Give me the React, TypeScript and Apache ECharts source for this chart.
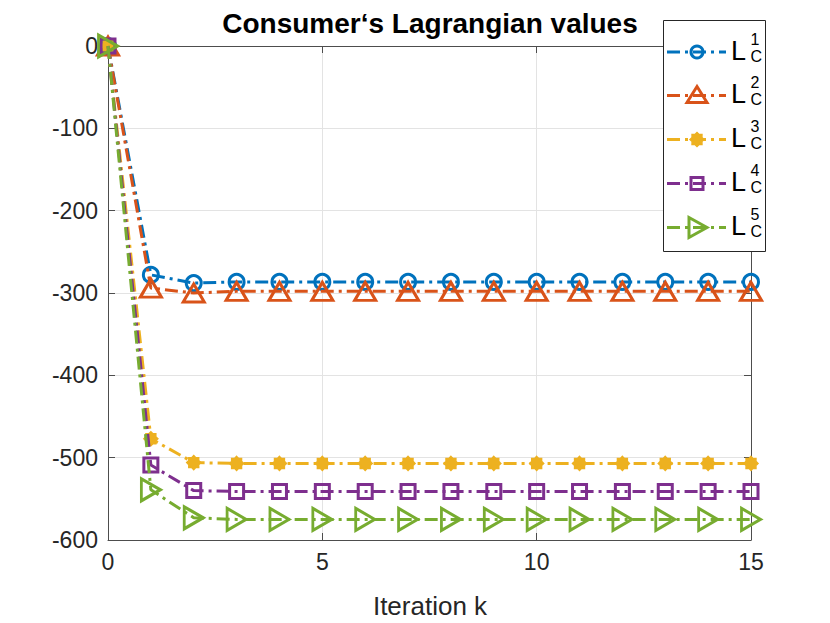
import React, { useEffect, useRef } from "react";
import * as echarts from "echarts";

const iterations = [0, 1, 2, 3, 4, 5, 6, 7, 8, 9, 10, 11, 12, 13, 14, 15];
const seriesNames = ["L1", "L2", "L3", "L4", "L5"];
const supLabels = ["1", "2", "3", "4", "5"];
const L1 = [0, -278, -288, -286.5, -286.5, -286.5, -286.5, -286.5, -286.5, -286.5, -286.5, -286.5, -286.5, -286.5, -286.5, -286.5];
const L2 = [0, -294, -300, -298, -298, -298, -298, -298, -298, -298, -298, -298, -298, -298, -298, -298];
const L3 = [0, -477, -506, -507, -507, -507, -507, -507, -507, -507, -507, -507, -507, -507, -507, -507];
const L4 = [0, -509, -540, -541, -541, -541, -541, -541, -541, -541, -541, -541, -541, -541, -541, -541];
const L5 = [0, -539, -573, -575, -575, -575, -575, -575, -575, -575, -575, -575, -575, -575, -575, -575];
const xTicks = [0, 5, 10, 15];
const yTicks = [-600, -500, -400, -300, -200, -100, 0];

const colors = ["#0072BD", "#D95319", "#EDB120", "#7E2F8E", "#77AC30"];
const FONT = '"Liberation Sans", Arial, Helvetica, sans-serif';
const DASH = [13, 5, 3, 5];

function starPoints(cx: number, cy: number, ro: number, ri: number, n: number) {
  const pts: number[][] = [];
  for (let i = 0; i < n * 2; i++) {
    const r = i % 2 === 0 ? ro : ri;
    const a = (Math.PI * i) / n - Math.PI / 2;
    pts.push([cx + r * Math.cos(a), cy + r * Math.sin(a)]);
  }
  return pts;
}

const starPath =
  "path://" +
  starPoints(10, 10, 10, 7.6, 8)
    .map((p, i) => (i === 0 ? "M" : "L") + p[0].toFixed(2) + " " + p[1].toFixed(2))
    .join(" ") +
  " Z";

export default function App() {
  const ref = useRef<HTMLDivElement>(null);
  useEffect(() => {
    document.body.style.margin = "0";
    if (!ref.current) return;
    const chart = echarts.init(ref.current, undefined, { renderer: "svg" });
    const data = [L1, L2, L3, L4, L5];
    const symbols: any[] = [
      { symbol: "circle", symbolSize: 15, rotate: 0, fill: "rgba(0,0,0,0)", bw: 3 },
      { symbol: "triangle", symbolSize: [21, 18], rotate: 0, fill: "rgba(0,0,0,0)", bw: 3 },
      { symbol: starPath, symbolSize: 14, rotate: 0, fill: colors[2], bw: 1.5 },
      { symbol: "rect", symbolSize: 14, rotate: 0, fill: "rgba(0,0,0,0)", bw: 3 },
      { symbol: "triangle", symbolSize: [22, 19], rotate: -90, fill: "rgba(0,0,0,0)", bw: 3 },
    ];

    const series = data.map((d, i) => ({
      name: seriesNames[i],
      type: "line",
      data: iterations.map((x, j) => [x, d[j]]),
      clip: false,
      symbol: symbols[i].symbol,
      symbolSize: symbols[i].symbolSize,
      symbolRotate: symbols[i].rotate,
      showAllSymbol: true,
      lineStyle: { color: colors[i], width: 3, type: DASH },
      itemStyle: { color: symbols[i].fill, borderColor: colors[i], borderWidth: symbols[i].bw },
      emphasis: { disabled: true },
      z: 3 + i,
    }));

    const lx0 = 667, lx1 = 726, mx = 697;
    const legendEls: any[] = [
      {
        type: "rect",
        shape: { x: 663.5, y: 20.5, width: 102, height: 231 },
        style: { fill: "#ffffff", stroke: "#262626", lineWidth: 1 },
        z: 100,
      },
    ];
    const entryY = [52, 95.5, 139.5, 183.5, 227.5];
    entryY.forEach((yy, i) => {
      const c = colors[i];
      legendEls.push({
        type: "line",
        shape: { x1: lx0, y1: yy, x2: lx1, y2: yy },
        style: { stroke: c, lineWidth: 3, lineDash: DASH },
        z: 101,
      });
      let marker: any;
      if (i === 0) {
        marker = { type: "circle", shape: { cx: mx, cy: yy, r: 6 }, style: { fill: "none", stroke: c, lineWidth: 3 } };
      } else if (i === 1) {
        marker = {
          type: "polygon",
          shape: { points: [[mx, yy - 9], [mx + 10, yy + 7], [mx - 10, yy + 7]] },
          style: { fill: "none", stroke: c, lineWidth: 3 },
        };
      } else if (i === 2) {
        marker = {
          type: "polygon",
          shape: { points: starPoints(mx, yy, 7, 5.3, 8) },
          style: { fill: c, stroke: c, lineWidth: 1.5 },
        };
      } else if (i === 3) {
        marker = { type: "rect", shape: { x: mx - 6, y: yy - 6, width: 12, height: 12 }, style: { fill: "none", stroke: c, lineWidth: 3 } };
      } else {
        marker = {
          type: "polygon",
          shape: { points: [[mx - 8, yy - 10], [mx + 10, yy], [mx - 8, yy + 10]] },
          style: { fill: "none", stroke: c, lineWidth: 3 },
        };
      }
      marker.z = 102;
      legendEls.push(marker);
      legendEls.push({
        type: "text",
        x: 731,
        y: yy - 1.5,
        style: { text: "L", fontSize: 27, fontFamily: FONT, fill: "#000", align: "left", verticalAlign: "middle" },
        z: 102,
      });
      legendEls.push({
        type: "text",
        x: 750.5,
        y: yy - 13,
        style: { text: supLabels[i], fontSize: 16, fontFamily: FONT, fill: "#000", align: "left", verticalAlign: "middle" },
        z: 102,
      });
      legendEls.push({
        type: "text",
        x: 750.5,
        y: yy + 4,
        style: { text: "C", fontSize: 16, fontFamily: FONT, fill: "#000", align: "left", verticalAlign: "middle" },
        z: 102,
      });
    });

    const axisLineStyle = { color: "#4d4d4d", width: 1 };
    const option: any = {
      animation: false,
      backgroundColor: "#ffffff",
      grid: { left: 108, right: 79, top: 46, bottom: 83, containLabel: false },
      xAxis: [
        {
          type: "value",
          min: xTicks[0],
          max: xTicks[xTicks.length - 1],
          interval: 5,
          position: "bottom",
          axisLine: { show: true, onZero: false, lineStyle: axisLineStyle },
          axisTick: { show: true, inside: true, length: 7, lineStyle: axisLineStyle },
          axisLabel: { fontSize: 23, fontFamily: FONT, color: "#262626", margin: 10 },
          splitLine: { show: true, lineStyle: { color: "#e3e3e3", width: 1 } },
        },
        {
          type: "value",
          min: xTicks[0],
          max: xTicks[xTicks.length - 1],
          interval: 5,
          position: "top",
          axisLine: { show: true, onZero: false, lineStyle: axisLineStyle },
          axisTick: { show: true, inside: true, length: 7, lineStyle: axisLineStyle },
          axisLabel: { show: false },
          splitLine: { show: false },
        },
      ],
      yAxis: [
        {
          type: "value",
          min: yTicks[0],
          max: yTicks[yTicks.length - 1],
          interval: 100,
          position: "left",
          axisLine: { show: true, onZero: false, lineStyle: axisLineStyle },
          axisTick: { show: true, inside: true, length: 7, lineStyle: axisLineStyle },
          axisLabel: { fontSize: 23, fontFamily: FONT, color: "#262626", margin: 10 },
          splitLine: { show: true, lineStyle: { color: "#e3e3e3", width: 1 } },
        },
        {
          type: "value",
          min: yTicks[0],
          max: yTicks[yTicks.length - 1],
          interval: 100,
          position: "right",
          axisLine: { show: true, onZero: false, lineStyle: axisLineStyle },
          axisTick: { show: true, inside: true, length: 7, lineStyle: axisLineStyle },
          axisLabel: { show: false },
          splitLine: { show: false },
        },
      ],
      graphic: [
        {
          type: "text",
          x: 430,
          y: 23,
          style: {
            text: "Consumer‘s Lagrangian values",
            fontSize: 28,
            fontWeight: "bold",
            fontFamily: FONT,
            fill: "#000",
            align: "center",
            verticalAlign: "middle",
          },
          z: 50,
        },
        {
          type: "text",
          x: 430,
          y: 606,
          style: {
            text: "Iteration k",
            fontSize: 26,
            fontFamily: FONT,
            fill: "#262626",
            align: "center",
            verticalAlign: "middle",
          },
          z: 50,
        },
        ...legendEls,
      ],
      series,
    };
    chart.setOption(option);
    return () => chart.dispose();
  }, []);
  return <div ref={ref} style={{ width: 830, height: 623 }} />;
}
